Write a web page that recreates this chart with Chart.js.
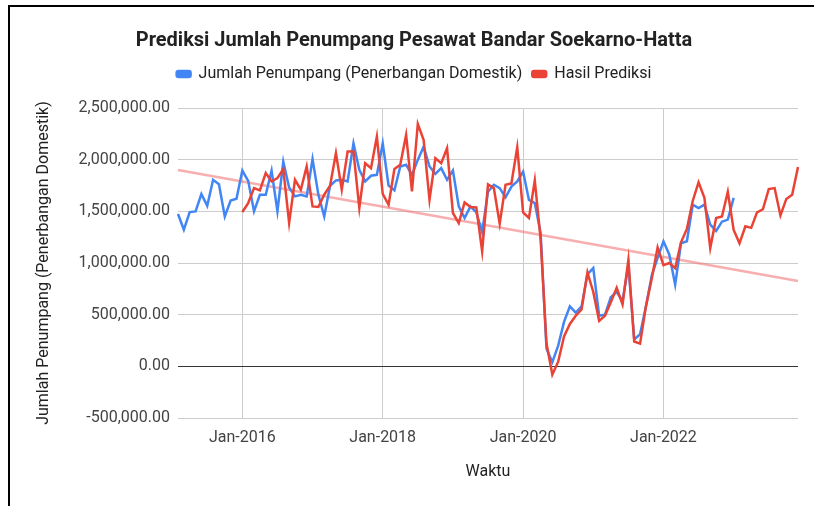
<!DOCTYPE html>
<html>
<head>
<meta charset="utf-8">
<script src="https://cdn.jsdelivr.net/npm/chart.js@4.4.1/dist/chart.umd.min.js"></script>
<style>
  html, body { margin: 0; padding: 0; background: #fff; }
  #wrap {
    position: relative; width: 814px; height: 506px; box-sizing: border-box;
  }
  #frame {
    position: absolute; left: 8px; top: 5px; right: 0; bottom: 0;
    border-left: 2px solid #000; border-top: 2px solid #000;
    pointer-events: none;
  }
  canvas { position: absolute; left: 0; top: 0; }
</style>
</head>
<body>
<div id="wrap">
  <canvas id="chart" width="814" height="506"></canvas>
  <div id="frame"></div>
</div>
<script>
// Monthly axis: Feb-2015 .. Dec-2023
const MONTH_NAMES = ['Jan','Feb','Mar','Apr','May','Jun','Jul','Aug','Sep','Oct','Nov','Dec'];
const START_YEAR = 2015;
const START_MONTH = 1; // Feb
const MONTH_COUNT = 107;
const TICK_LABELS = ['Jan-2016', 'Jan-2018', 'Jan-2020', 'Jan-2022'];

// Jumlah Penumpang (Penerbangan Domestik), Feb-2015 .. Jan-2023
const passengers = [
  1474000, 1322000, 1493000, 1499000, 1667000, 1554000, 1805000, 1763000, 1451000, 1605000, 1622000,
  1895000, 1795000, 1500000, 1660000, 1660000, 1895000, 1500000, 1980000, 1730000, 1645000, 1661000, 1645000,
  2005000, 1661000, 1451000, 1748000, 1799000, 1805000, 1789000, 2159000, 1902000, 1789000, 1844000, 1853000,
  2159000, 1750000, 1703000, 1934000, 1950000, 1853000, 1998000, 2127000, 1934000, 1863000, 1918000, 1805000,
  1895000, 1548000, 1436000, 1548000, 1490000, 1300000, 1690000, 1757000, 1725000, 1635000, 1740000, 1790000,
  1885000, 1610000, 1580000, 1290000, 170000, 40000, 200000, 430000, 580000, 520000, 580000, 890000,
  950000, 490000, 500000, 670000, 720000, 630000, 980000, 260000, 310000, 580000, 880000, 1050000,
  1210000, 1080000, 790000, 1190000, 1210000, 1564000, 1532000, 1564000, 1371000, 1310000, 1400000, 1420000,
  1630000
];

// Hasil Prediksi, Jan-2016 .. Dec-2023
const prediction = [
  1493000, 1580000, 1725000, 1703000, 1870000, 1789000, 1821000, 1908000, 1387000, 1805000, 1709000, 1934000,
  1548000, 1542000, 1661000, 1748000, 2063000, 1709000, 2079000, 2079000, 1532000, 1966000, 1918000, 2223000,
  1670000, 1564000, 1910000, 1950000, 2240000, 1692000, 2346000, 2190000, 1612000, 2014000, 1966000, 2111000,
  1484000, 1387000, 1586000, 1542000, 1537000, 1113000, 1760000, 1725000, 1380000, 1757000, 1770000, 2120000,
  1490000, 1436000, 1800000, 1226000, 220000, -80000, 45000, 290000, 410000, 490000, 550000, 910000,
  720000, 440000, 490000, 620000, 760000, 600000, 1030000, 240000, 220000, 580000, 850000, 1150000,
  980000, 1000000, 950000, 1200000, 1330000, 1600000, 1780000, 1630000, 1145000, 1435000, 1450000, 1690000,
  1320000, 1190000, 1355000, 1340000, 1490000, 1520000, 1715000, 1725000, 1460000, 1620000, 1660000, 1930000
];

// Linear trendline end points (first and last month)
const trendStart = 1900000;
const trendEnd = 825000;

const labels = [];
for (let i = 0; i < MONTH_COUNT; i++) {
  const m = (START_MONTH + i) % 12;
  const y = START_YEAR + Math.floor((START_MONTH + i) / 12);
  labels.push(`${MONTH_NAMES[m]}-${y}`);
}

const blueData = labels.map((_, i) => i < passengers.length ? passengers[i] : null);
const predOffset = MONTH_COUNT - prediction.length;
const redData = labels.map((_, i) => i >= predOffset ? prediction[i - predOffset] : null);
const trendData = labels.map((_, i) => i === 0 ? trendStart : (i === MONTH_COUNT - 1 ? trendEnd : null));

const FONT = "Roboto, 'Liberation Sans', Arial, sans-serif";

// leave some room between the legend and the plot
const legendGap = {
  id: 'legendGap',
  afterInit(chart) {
    const fit = chart.legend.fit;
    chart.legend.fit = function () {
      fit.call(this);
      this.height += 16;
    };
  }
};

new Chart(document.getElementById('chart').getContext('2d'), {
  type: 'line',
  data: {
    labels: labels,
    datasets: [
      {
        label: 'Jumlah Penumpang (Penerbangan Domestik)',
        data: blueData,
        borderColor: '#4285f4',
        backgroundColor: '#4285f4',
        borderWidth: 2.5,
        pointRadius: 0,
        tension: 0,
        order: 2
      },
      {
        label: 'Hasil Prediksi',
        data: redData,
        borderColor: '#ea4335',
        backgroundColor: '#ea4335',
        borderWidth: 2.5,
        pointRadius: 0,
        tension: 0,
        order: 1
      },
      {
        label: 'Trend',
        data: trendData,
        borderColor: 'rgba(242, 120, 120, 0.6)',
        borderWidth: 2.5,
        pointRadius: 0,
        spanGaps: true,
        order: 3
      }
    ]
  },
  plugins: [legendGap],
  options: {
    responsive: false,
    animation: false,
    layout: { padding: { left: 30, right: 16, top: 20, bottom: 20 } },
    plugins: {
      title: {
        display: true,
        text: 'Prediksi Jumlah Penumpang Pesawat Bandar Soekarno-Hatta',
        color: '#222',
        font: { family: FONT, size: 20, weight: 'bold' },
        padding: { top: 9, bottom: 3 }
      },
      legend: {
        position: 'top',
        labels: {
          color: '#222',
          font: { family: FONT, size: 16 },
          boxWidth: 14,
          boxHeight: 6,
          useBorderRadius: true,
          borderRadius: 2,
          padding: 10,
          filter: item => item.datasetIndex < 2,
          sort: (a, b) => a.datasetIndex - b.datasetIndex
        }
      },
      tooltip: { enabled: false }
    },
    scales: {
      x: {
        type: 'category',
        border: { display: false },
        grid: { color: '#cccccc', drawTicks: false },
        ticks: {
          autoSkip: false,
          maxRotation: 0,
          padding: 10,
          color: '#444',
          font: { family: FONT, size: 16 },
          callback: function (value) {
            const lab = this.getLabelForValue(value);
            return TICK_LABELS.includes(lab) ? lab : null;
          }
        },
        title: {
          display: true,
          text: 'Waktu',
          color: '#222',
          font: { family: FONT, size: 16 },
          padding: { top: 4, bottom: 4 }
        },
        afterFit: scale => { scale.height = 68; }
      },
      y: {
        min: -500000,
        max: 2500000,
        border: { display: false },
        grid: {
          drawTicks: false,
          color: ctx => ctx.tick && ctx.tick.value === 0 ? '#333333' : '#cccccc'
        },
        ticks: {
          stepSize: 500000,
          padding: 8,
          color: '#444',
          font: { family: FONT, size: 16 },
          callback: v => v.toLocaleString('en-US', { minimumFractionDigits: 2, maximumFractionDigits: 2 })
        },
        title: {
          display: true,
          text: 'Jumlah Penumpang (Penerbangan Domestik)',
          color: '#222',
          font: { family: FONT, size: 16 },
          padding: { top: 4, bottom: 4 }
        },
        afterFit: scale => { scale.width = 148; }
      }
    }
  }
});
</script>
</body>
</html>
